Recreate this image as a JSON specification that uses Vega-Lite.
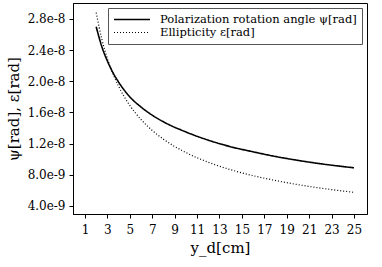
{
  "$schema": "https://vega.github.io/schema/vega-lite/v6.json",
  "width": 294,
  "height": 211,
  "autosize": "none",
  "padding": {"left": 73, "top": 3, "right": 15, "bottom": 53},
  "background": "white",
  "config": {
    "view": {"stroke": "black", "strokeWidth": 1},
    "font": "DejaVu Serif",
    "axis": {"grid": false, "domainColor": "black", "tickColor": "black", "labelColor": "black", "titleColor": "black", "labelFont": "DejaVu Serif", "titleFont": "DejaVu Serif", "titleFontWeight": "normal", "labelFontSize": 12, "titleFontSize": 15, "tickSize": 4}
  },
  "data": {
    "values": [
      {"x": 2, "v": 2.70e-8, "s": "Polarization rotation angle ψ[rad]"},
      {"x": 2.5, "v": 2.446e-8, "s": "Polarization rotation angle ψ[rad]"},
      {"x": 3, "v": 2.26e-8, "s": "Polarization rotation angle ψ[rad]"},
      {"x": 3.5, "v": 2.11e-8, "s": "Polarization rotation angle ψ[rad]"},
      {"x": 4, "v": 1.99e-8, "s": "Polarization rotation angle ψ[rad]"},
      {"x": 5, "v": 1.80e-8, "s": "Polarization rotation angle ψ[rad]"},
      {"x": 6, "v": 1.67e-8, "s": "Polarization rotation angle ψ[rad]"},
      {"x": 7, "v": 1.565e-8, "s": "Polarization rotation angle ψ[rad]"},
      {"x": 8, "v": 1.48e-8, "s": "Polarization rotation angle ψ[rad]"},
      {"x": 10, "v": 1.35e-8, "s": "Polarization rotation angle ψ[rad]"},
      {"x": 12, "v": 1.245e-8, "s": "Polarization rotation angle ψ[rad]"},
      {"x": 14, "v": 1.16e-8, "s": "Polarization rotation angle ψ[rad]"},
      {"x": 16, "v": 1.095e-8, "s": "Polarization rotation angle ψ[rad]"},
      {"x": 18, "v": 1.035e-8, "s": "Polarization rotation angle ψ[rad]"},
      {"x": 20, "v": 9.85e-9, "s": "Polarization rotation angle ψ[rad]"},
      {"x": 22, "v": 9.42e-9, "s": "Polarization rotation angle ψ[rad]"},
      {"x": 25, "v": 8.9e-9, "s": "Polarization rotation angle ψ[rad]"},
      {"x": 2, "v": 2.88e-8, "s": "Ellipticity ε[rad]"},
      {"x": 2.5, "v": 2.542e-8, "s": "Ellipticity ε[rad]"},
      {"x": 3, "v": 2.291e-8, "s": "Ellipticity ε[rad]"},
      {"x": 3.5, "v": 2.094e-8, "s": "Ellipticity ε[rad]"},
      {"x": 4, "v": 1.935e-8, "s": "Ellipticity ε[rad]"},
      {"x": 5, "v": 1.69e-8, "s": "Ellipticity ε[rad]"},
      {"x": 6, "v": 1.51e-8, "s": "Ellipticity ε[rad]"},
      {"x": 7, "v": 1.369e-8, "s": "Ellipticity ε[rad]"},
      {"x": 8, "v": 1.257e-8, "s": "Ellipticity ε[rad]"},
      {"x": 10, "v": 1.086e-8, "s": "Ellipticity ε[rad]"},
      {"x": 12, "v": 9.61e-9, "s": "Ellipticity ε[rad]"},
      {"x": 14, "v": 8.65e-9, "s": "Ellipticity ε[rad]"},
      {"x": 16, "v": 7.89e-9, "s": "Ellipticity ε[rad]"},
      {"x": 18, "v": 7.27e-9, "s": "Ellipticity ε[rad]"},
      {"x": 20, "v": 6.74e-9, "s": "Ellipticity ε[rad]"},
      {"x": 22, "v": 6.30e-9, "s": "Ellipticity ε[rad]"},
      {"x": 25, "v": 5.75e-9, "s": "Ellipticity ε[rad]"}
    ]
  },
  "mark": {"type": "line", "interpolate": "monotone", "color": "black", "clip": true},
  "encoding": {
    "x": {
      "field": "x", "type": "quantitative",
      "scale": {"domain": [-0.07, 26.16], "nice": false, "zero": false},
      "axis": {"values": [1, 3, 5, 7, 9, 11, 13, 15, 17, 19, 21, 23, 25], "title": "y_d[cm]", "labelPadding": 6, "titlePadding": 5, "labelFlush": false}
    },
    "y": {
      "field": "v", "type": "quantitative",
      "scale": {"domain": [2.97e-9, 3.005e-8], "nice": false, "zero": false},
      "axis": {"values": [4e-9, 8e-9, 1.2e-8, 1.6e-8, 2.0e-8, 2.4e-8, 2.8e-8], "format": ".1e", "title": "ψ[rad], ε[rad]", "labelPadding": 4, "titlePadding": 6, "labelFlush": false}
    },
    "strokeDash": {
      "field": "s", "type": "nominal",
      "scale": {"domain": ["Polarization rotation angle ψ[rad]", "Ellipticity ε[rad]"], "range": [[1, 0], [1, 2]]},
      "legend": {"title": null, "orient": "top-right", "offset": 5, "padding": 5, "strokeColor": "#555", "fillColor": "white", "symbolType": "stroke", "symbolSize": 1296, "symbolStrokeColor": "black", "symbolStrokeWidth": 1.5, "clipHeight": 13, "labelFontSize": 11.5, "labelFont": "DejaVu Serif", "labelColor": "black", "labelOffset": 9, "rowPadding": 0, "labelLimit": 400}
    },
    "strokeWidth": {
      "field": "s", "type": "nominal",
      "scale": {"domain": ["Polarization rotation angle ψ[rad]", "Ellipticity ε[rad]"], "range": [1.6, 1.2]},
      "legend": null
    }
  }
}
